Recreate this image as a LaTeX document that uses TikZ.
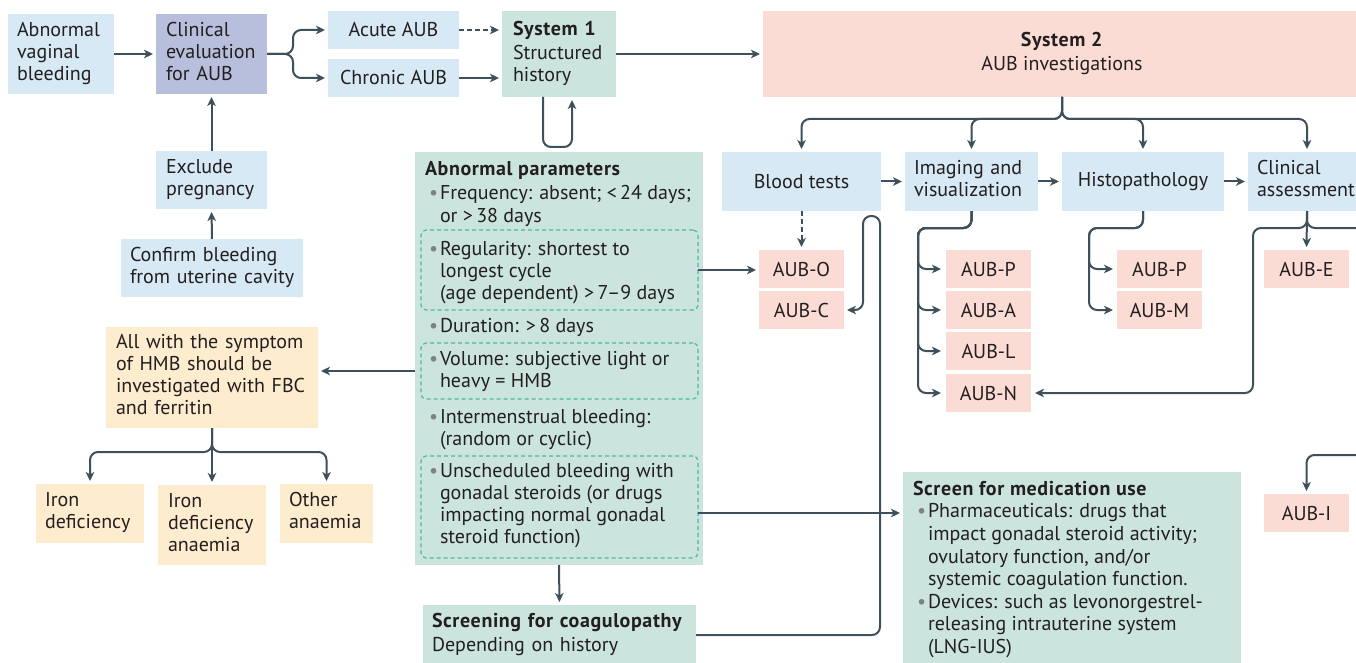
\documentclass[tikz,border=0pt]{standalone}
\usepackage{fontspec}
\setmainfont{PT Sans}[BoldFeatures={LetterSpace=3}]
\usetikzlibrary{arrows.meta}
\definecolor{cblue}{HTML}{D7E9F4}
\definecolor{clav}{HTML}{B8BFDD}
\definecolor{cgreen}{HTML}{CBE4DE}
\definecolor{cpink}{HTML}{FBDCD5}
\definecolor{corange}{HTML}{FEECCF}
\definecolor{carrow}{HTML}{3E505C}
\definecolor{cdash}{HTML}{4FB8A8}
\definecolor{cbul}{HTML}{808080}
\definecolor{ctext}{HTML}{231F20}
\setlength{\parindent}{0pt}
\newcommand\mybul{\hspace*{4pt}\makebox[11pt][l]{\textcolor{cbul}{•}}}
\newcommand\myind{\hspace*{15pt}}
\newcommand\lines[1]{\begin{tabular}{@{}l@{}}#1\end{tabular}}
\newcommand\clines[1]{\begin{tabular}{@{}c@{}}#1\end{tabular}}
\begin{document}
\begin{tikzpicture}[x=1pt,y=-1pt,
  every node/.style={font=\fontsize{20}{22}\selectfont, text=ctext, inner sep=0pt, outer sep=0pt},
  bx/.style={rectangle, anchor=north west, inner ysep=0pt, align=left},
  cbx/.style={rectangle, anchor=north west, inner sep=0pt, align=center},
  dbox/.style={rectangle, draw=cdash, dash pattern=on 4pt off 3pt, line width=1.2pt, rounded corners=5pt, anchor=north west, inner sep=0pt},
  tx/.style={anchor=north west, align=left},
  ar/.style={draw=carrow, line width=2pt, rounded corners=8pt, -{Stealth[length=9pt,width=8.5pt,inset=2.5pt]}, shorten >=3pt},
  aub/.style={cbx, fill=cpink, minimum width=85pt, minimum height=38pt}]
\useasboundingbox (0,0) rectangle (1356,663);
\clip (0,0) rectangle (1356,663);
\fill[white] (0,0) rectangle (1356,663);

% top row
\node[bx, fill=cblue, text width=88pt, inner xsep=9pt, minimum height=80pt] (avb) at (8,14) {\lines{Abnormal\\vaginal\\bleeding}};
\node[bx, fill=clav, text width=91pt, inner xsep=10pt, minimum height=80pt] (clin) at (156,14) {\lines{Clinical\\evaluation\\for AUB}};
\node[cbx, fill=cblue, minimum width=131pt, minimum height=38pt] (acute) at (328,11) {Acute AUB};
\node[cbx, fill=cblue, minimum width=131pt, minimum height=38pt] (chronic) at (328,59) {Chronic AUB};
\node[bx, fill=cgreen, text width=92pt, inner xsep=11pt, minimum height=86pt] (sys1) at (502,11) {\lines{\textbf{System 1}\\[2pt]Structured\\history}};
\node[cbx, fill=cpink, minimum width=598pt, minimum height=86pt] (sys2) at (763,11) {\clines{\textbf{System 2}\\[2pt]AUB investigations}};
\node[bx, fill=cblue, text width=91pt, inner xsep=10pt, minimum height=58pt] (excl) at (156,151) {\lines{Exclude\\pregnancy}};
\node[bx, fill=cblue, text width=164pt, inner xsep=9pt, minimum height=58pt] (conf) at (121,239) {\lines{Confirm bleeding\\from uterine cavity}};

% abnormal parameters
\node[rectangle, anchor=north west, fill=cgreen, minimum width=288pt, minimum height=413pt] (ap) at (415,152) {};
\node[dbox, minimum width=277pt, minimum height=80pt] (reg) at (421,230) {};
\node[dbox, minimum width=277pt, minimum height=56pt] (vol) at (421,343) {};
\node[dbox, minimum width=277pt, minimum height=102pt] (unsch) at (421,456) {};
\node[tx] (apT) at (425,159.6) {\lines{\textbf{Abnormal parameters}}};
\node[tx] (freqT) at (425,184.6) {\lines{\mybul Frequency: absent; <\,24 days;\\\myind or >\,38 days}};
\node[tx] (regT) at (425,239.6) {\lines{\mybul Regularity: shortest to\\\myind longest cycle\\\myind (age dependent) >\,7--9 days}};
\node[tx] (durT) at (425,316.6) {\lines{\mybul Duration: >\,8 days}};
\node[tx] (volT) at (425,349.6) {\lines{\mybul Volume: subjective light or\\\myind heavy = HMB}};
\node[tx] (interT) at (425,407.6) {\lines{\mybul Intermenstrual bleeding:\\\myind (random or cyclic)}};
\node[tx] (unschT) at (425,461.6) {\lines{\mybul Unscheduled bleeding with\\\myind gonadal steroids (or drugs\\\myind impacting normal gonadal\\\myind steroid function)}};

% investigations
\node[cbx, fill=cblue, minimum width=159pt, minimum height=59pt] (blood) at (722,152) {Blood tests};
\node[bx, fill=cblue, text width=115pt, inner xsep=9pt, minimum height=59pt] (img) at (905,152) {\lines{Imaging and\\visualization}};
\node[cbx, fill=cblue, minimum width=162pt, minimum height=59pt] (histo) at (1062,152) {Histopathology};
\node[bx, fill=cblue, text width=100pt, inner xsep=9pt, minimum height=59pt] (clin2) at (1248,152) {\lines{Clinical\\assessment}};

\node[aub] (aubO) at (759,250) {AUB-O};
\node[aub] (aubC) at (759,291) {AUB-C};
\node[aub] (aubP1) at (946,250) {AUB-P};
\node[aub] (aubA) at (946,291) {AUB-A};
\node[aub] (aubL) at (946,332) {AUB-L};
\node[aub] (aubN) at (946,374) {AUB-N};
\node[aub] (aubP2) at (1117,250) {AUB-P};
\node[aub] (aubM) at (1117,291) {AUB-M};
\node[aub] (aubE) at (1264,250) {AUB-E};
\node[aub] (aubI) at (1264,494) {AUB-I};

% HMB
\node[bx, fill=corange, text width=192pt, inner xsep=10pt, minimum height=101pt] (hmb) at (106,327) {\lines{All with the symptom\\of HMB should be\\investigated with FBC\\and ferritin}};
\node[bx, fill=corange, text width=90pt, inner xsep=9pt, minimum height=59pt] (iron) at (36,484) {\lines{Iron\\deficiency}};
\node[bx, fill=corange, text width=88pt, inner xsep=10pt, minimum height=80pt] (ida) at (158,485) {\lines{Iron\\deficiency\\anaemia}};
\node[bx, fill=corange, text width=75pt, inner xsep=9pt, minimum height=59pt] (other) at (280,484) {\lines{Other\\anaemia}};

% bottom
\node[bx, fill=cgreen, text width=255pt, inner xsep=9pt, minimum height=60pt] (coag) at (423,605) {\lines{\textbf{Screening for coagulopathy}\\[2pt]Depending on history}};
\node[rectangle, anchor=north west, fill=cgreen, minimum width=338pt, minimum height=193pt] (med) at (903,472) {};
\node[tx, font=\fontsize{20}{22.6}\selectfont] (medT) at (913,479.5) {\lines{\textbf{Screen for medication use}\\\mybul Pharmaceuticals: drugs that\\\myind impact gonadal steroid activity;\\\myind ovulatory function, and/or\\\myind systemic coagulation function.\\\mybul Devices: such as levonorgestrel-\\\myind releasing intrauterine system\\\myind (LNG-IUS)}};

% coordinates
\coordinate (lp1) at (543,147);
\coordinate (lp2) at (572,147);
\coordinate (bry) at (0,119);
\coordinate (cl1) at (880,216);
\coordinate (cl2) at (863,216);
\coordinate (hy) at (0,452);
\coordinate (ib) at (918,228);
\coordinate (hb) at (1089,228);
\coordinate (cb) at (1253,228);
\coordinate (cr1) at (1385,228);
\coordinate (cr2) at (1385,455);

% connectors
\draw[ar] (avb.east) -- (clin.west);
\draw[ar] (clin.east) -- ++(26,0) |- (acute.west);
\draw[ar] (clin.east) -- ++(26,0) |- (chronic.west);
\draw[ar, dash pattern=on 5pt off 3pt] (acute.east) -- (acute.east -| sys1.west);
\draw[ar] (chronic.east) -- (chronic.east -| sys1.west);
\draw[ar] (excl.north) -- (clin.south);
\draw[ar] (conf.north) -- (excl.south);
\draw[ar] (sys1.south -| lp1) -- (lp1) -- (lp2) -- (sys1.south -| lp2);
\draw[ar] (sys1.east) -- (sys1.east -| sys2.west);
\foreach \t in {blood,img,histo,clin2}
  \draw[ar] (sys2.south) -- (sys2.south |- bry) -| (\t.north);
\draw[ar] (blood.east) -- (img.west);
\draw[ar] (img.east) -- (histo.west);
\draw[ar] (histo.east) -- (clin2.west);
\draw[ar, dash pattern=on 5pt off 3pt] (blood.south) -- (aubO.north);
\draw[ar] (reg.east) -- (reg.east -| aubO.west);
\draw[ar] (coag.east) -| (cl1) -- (cl2) |- (aubC.east);
\draw[ar] (vol.west -| ap.west) -- (vol.west -| hmb.east);
\draw[ar] (hmb.south) -- (hmb.south |- hy) -| (iron.north);
\draw[ar] (hmb.south) -- (ida.north);
\draw[ar] (hmb.south) -- (hmb.south |- hy) -| (other.north);
\draw[ar] (ap.south) -- (coag.north);
\draw[ar] ([yshift=-6pt]unsch.east) -- ([yshift=-6pt]unsch.east -| med.west);
\foreach \t in {aubP1,aubA,aubL,aubN}
  \draw[ar, shorten >=5pt] (img.south) |- (ib) |- (\t.west);
\foreach \t in {aubP2,aubM}
  \draw[ar, shorten >=4pt] (histo.south) |- (hb) |- (\t.west);
\draw[ar] (clin2.south) -- (aubE.north);
\draw[ar, shorten >=4pt] (clin2.south) |- (cb) |- (aubN.east);
\draw[ar] (clin2.south) |- (cr1) -- (cr2) -| (aubI.north);
\end{tikzpicture}
\end{document}
